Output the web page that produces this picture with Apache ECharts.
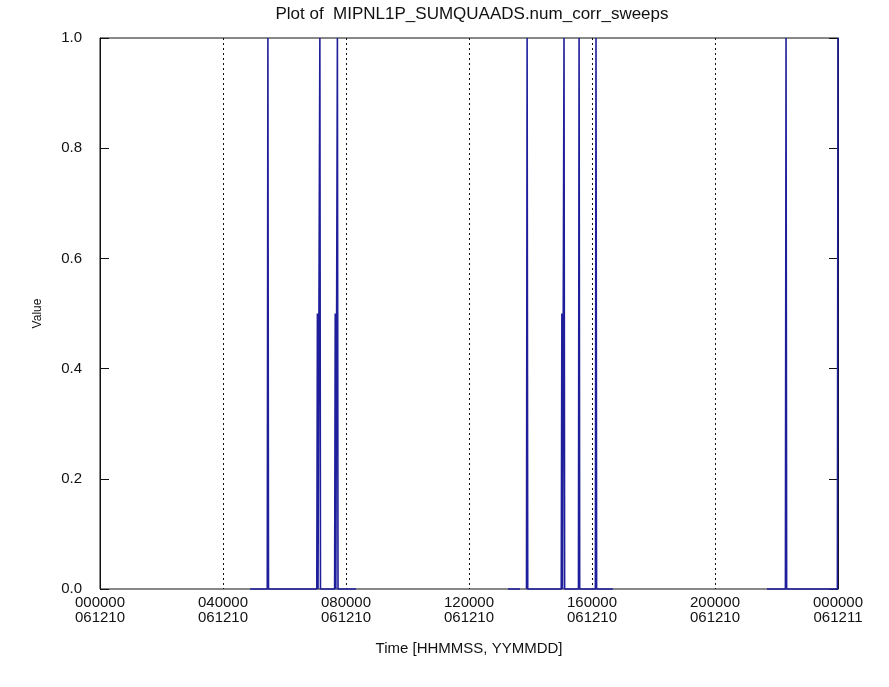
<!DOCTYPE html>
<html>
<head>
<meta charset="utf-8">
<script src="https://cdn.jsdelivr.net/npm/echarts@6/dist/echarts.min.js"></script>
<style>
  html, body { margin: 0; padding: 0; background: #fff; }
  #chart { width: 889px; height: 687px; }
</style>
</head>
<body>
<div id="chart"></div>
<script>
// time in hours since 000000 061210, null = no data (gap)
const times = [
  4.88, 5.44, 5.46, 5.48, 7.05, 7.07, 7.09, 7.13, 7.15, 7.17,
  7.63, 7.65, 7.67, 7.70, 7.72, 7.74, 8.33, 8.34,
  13.27, 13.66, 13.67,
  13.87, 13.89, 13.91, 15.00, 15.02, 15.04, 15.07, 15.09, 15.11,
  15.56, 15.58, 15.60, 16.11, 16.13, 16.15, 16.68, 16.69,
  21.69, 22.29, 22.31, 22.33, 23.98, 24.0
]
const values = [
  0, 0, 1, 0, 0, 0.5, 0, 0, 1, 0,
  0, 0.5, 0, 0, 1, 0, 0, null,
  0, 0, null,
  0, 1, 0, 0, 0.5, 0, 0, 1, 0,
  0, 1, 0, 0, 1, 0, 0, null,
  0, 0, 1, 0, 0, 1
]
const tickLabels = [
  "000000\n061210", "040000\n061210", "080000\n061210", "120000\n061210",
  "160000\n061210", "200000\n061210", "000000\n061211"
]

const chart = echarts.init(document.getElementById("chart"))
const font = "Liberation Sans"
const points = times.map((t, i) => [t, values[i] === null ? "-" : values[i]])

chart.setOption({
  animation: false,
  backgroundColor: "#fff",
  title: {
    text: "Plot of  MIPNL1P_SUMQUAADS.num_corr_sweeps",
    left: 467, top: 1, textAlign: "center",
    textStyle: { fontFamily: font, fontSize: 17, fontWeight: "normal", color: "#111" }
  },
  grid: {
    left: 100, right: 51, top: 38, bottom: 98,
    show: true, borderColor: "#111", borderWidth: 1
  },
  xAxis: {
    type: "value", min: 0, max: 24, interval: 4,
    name: "Time [HHMMSS, YYMMDD]", nameLocation: "middle", nameGap: 52,
    nameTextStyle: { fontFamily: font, fontSize: 15, color: "#111" },
    axisLine: { show: false },
    axisTick: { show: false },
    axisLabel: {
      fontFamily: font, fontSize: 15, color: "#111", lineHeight: 15, margin: 6,
      formatter: v => tickLabels[Math.round(v / 4)]
    },
    splitLine: { show: true, lineStyle: { color: "#111", type: [2, 3], width: 1 } }
  },
  yAxis: [
    {
      type: "value", min: 0, max: 1, interval: 0.2,
      name: "Value", nameLocation: "middle", nameGap: 56, nameRotate: 90,
      nameTextStyle: { fontFamily: font, fontSize: 12, color: "#111" },
      axisLine: { show: true, lineStyle: { color: "#111" } },
      axisTick: { show: true, inside: true, length: 9, lineStyle: { color: "#111" } },
      axisLabel: { fontFamily: font, fontSize: 15, color: "#111", margin: 18, formatter: v => v.toFixed(1) },
      splitLine: { show: false }
    },
    {
      type: "value", min: 0, max: 1, interval: 0.2, position: "right",
      axisLine: { show: true, lineStyle: { color: "#111" } },
      axisTick: { show: true, inside: true, length: 9, lineStyle: { color: "#111" } },
      axisLabel: { show: false },
      splitLine: { show: false }
    }
  ],
  series: [{
    type: "line",
    data: points,
    showSymbol: false,
    connectNulls: false,
    clip: false,
    z: 10,
    lineStyle: { color: "#1f1f9c", width: 1.6 }
  }]
})
</script>
</body>
</html>
